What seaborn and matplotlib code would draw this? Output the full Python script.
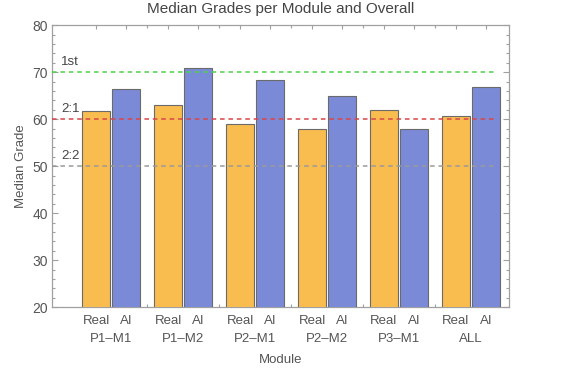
import numpy as np
import pandas as pd
import matplotlib
matplotlib.use("Agg")
import matplotlib.pyplot as plt
import seaborn as sns

# data
modules = ["P1–M1", "P1–M2", "P2–M1", "P2–M2", "P3–M1", "ALL"]
real_median = [61.7, 63.0, 58.9, 57.9, 61.9, 60.6]
ai_median = [66.4, 70.8, 68.3, 64.9, 57.9, 66.8]
sources = ["Real", "AI"]
ref_values = [70, 60, 50]
ref_labels = ["1st", "2:1", "2:2"]
ref_colors = ["#4fd04f", "#d8454a", "#9a9a9a"]

df = pd.DataFrame({
    "Module": modules * 2,
    "Source": ["Real"] * len(modules) + ["AI"] * len(modules),
    "Median Grade": real_median + ai_median,
})

sns.set_style("white")
plt.rcParams["font.family"] = ["Liberation Sans", "DejaVu Sans"]
txt = "#555555"
frame = "#a0a0a0"

fig, ax = plt.subplots(figsize=(5.65, 3.75), dpi=100)
fig.subplots_adjust(left=0.092, right=0.901, top=0.933, bottom=0.181)

width = 0.83
sns.barplot(data=df, x="Module", y="Median Grade", hue="Source", order=modules,
            hue_order=sources, palette=["#f9bc4f", "#7b8ad6"], saturation=1,
            width=width, gap=0.05, edgecolor="#6a6a6a", linewidth=0.8,
            legend=False, ax=ax, zorder=3)

x = np.arange(len(modules))
xmin, xmax = -0.82, 5.53
for v, lab, c in zip(ref_values, ref_labels, ref_colors):
    ax.plot([xmin, 5.36], [v, v], ls=(0, (3, 2.5)), color=c, lw=1.1, zorder=4)
    ax.text(-0.69, v + 0.8, lab, color="#444444", fontsize=9.5, ha="left", va="bottom", zorder=5)

ax.set_xlim(xmin, xmax)
ax.set_ylim(20, 80)

centers = np.sort(np.concatenate([x - width / 4, x + width / 4]))
ax.set_xticks(centers)
ax.set_xticklabels(sources * len(modules), color=txt, fontsize=9.5)
ax.set_xticks(x[:-1] + 0.5, minor=True)
for i, m in enumerate(modules):
    ax.text(i, -0.112, m, transform=ax.get_xaxis_transform(), ha="center", va="center",
            color=txt, fontsize=9.5)

ax.set_yticks(np.arange(20, 81, 10))
ax.set_yticks(np.arange(20, 81, 2), minor=True)
ax.tick_params(axis="both", which="both", direction="in", color=frame, width=0.8,
               top=True, right=True, bottom=True, left=True, labelcolor=txt)
ax.tick_params(axis="both", which="major", length=4, labelsize=10, pad=3)
ax.tick_params(axis="x", which="major", length=3, labelsize=9.5, pad=6)
ax.tick_params(axis="both", which="minor", length=2)
for s in ax.spines.values():
    s.set_color(frame)
    s.set_linewidth(0.9)

ax.set_xlabel("Module", color=txt, fontsize=9.5, labelpad=19)
ax.set_ylabel("Median Grade", color=txt, fontsize=9.5, labelpad=4)
ax.set_title("Median Grades per Module and Overall", color="#444444", fontsize=11, pad=9)

plt.savefig("out.png", dpi=100)
